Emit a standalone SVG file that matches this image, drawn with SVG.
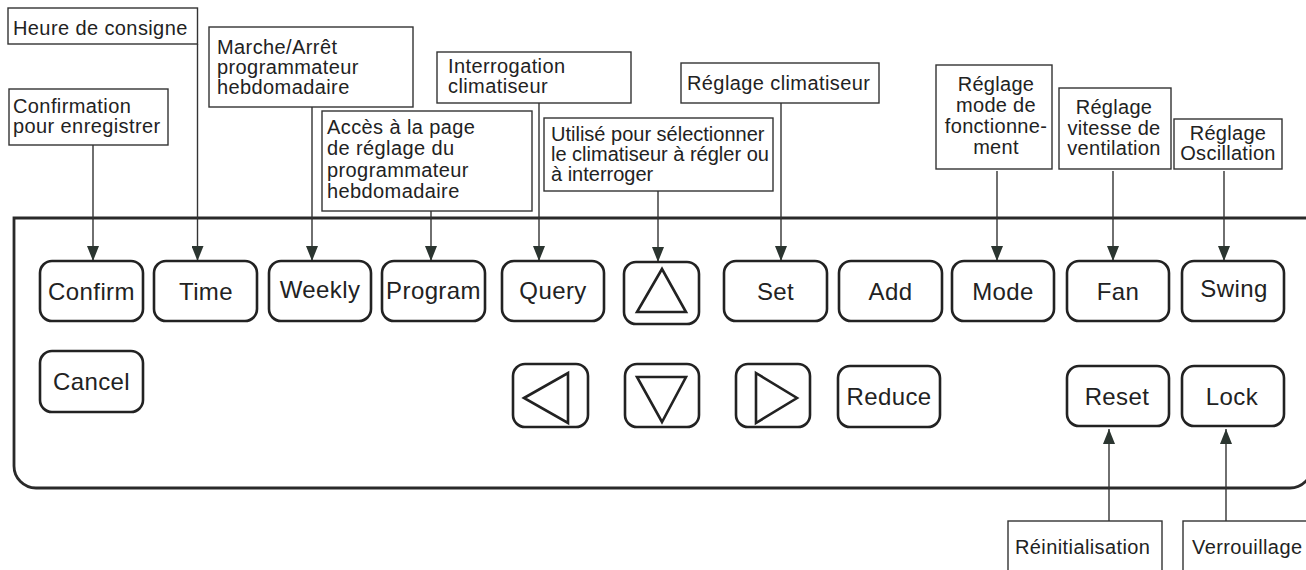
<svg xmlns="http://www.w3.org/2000/svg" width="1306" height="570" viewBox="0 0 1306 570">
<style>
.lbl{fill:#fff;stroke:#333;stroke-width:1.4}
.lt{font-family:"Liberation Sans",Arial,sans-serif;font-size:20px;letter-spacing:0.4px;fill:#222}
.lt0{letter-spacing:0px}
.ltc{font-family:"Liberation Sans",Arial,sans-serif;font-size:20px;letter-spacing:0.3px;fill:#222;text-anchor:middle}
.btn{fill:#fff;stroke:#222;stroke-width:2.6}
.bt{font-family:"Liberation Sans",Arial,sans-serif;font-size:24px;letter-spacing:0.4px;fill:#222;text-anchor:middle}
.tri{fill:none;stroke:#222;stroke-width:2.6;stroke-linejoin:miter}
.con{stroke:#333;stroke-width:1.4;fill:none}
</style>
<defs>
<marker id="ah" viewBox="0 0 15 12" refX="15" refY="6" markerWidth="15" markerHeight="12" markerUnits="userSpaceOnUse" orient="auto">
<path d="M0,0 L15,6 L0,12 Z" fill="#2b3530"/>
</marker>
</defs>
<rect width="1306" height="570" fill="#fff"/>

<g id="panel">
<path d="M1320,218 H14 V466 A22,22 0 0 0 36,488 H1290 A22,22 0 0 0 1312,466" fill="none" stroke="#2a2a2a" stroke-width="2.8"/>
</g>

<g id="connectors">
<line class="con" x1="93" y1="145" x2="93" y2="261" marker-end="url(#ah)"/>
<line class="con" x1="197.5" y1="44" x2="197.5" y2="261" marker-end="url(#ah)"/>
<line class="con" x1="312" y1="107" x2="312" y2="261" marker-end="url(#ah)"/>
<line class="con" x1="431" y1="211" x2="431" y2="261" marker-end="url(#ah)"/>
<line class="con" x1="539" y1="103" x2="539" y2="261" marker-end="url(#ah)"/>
<line class="con" x1="658" y1="191" x2="658" y2="262" marker-end="url(#ah)"/>
<line class="con" x1="781" y1="103" x2="781" y2="261" marker-end="url(#ah)"/>
<line class="con" x1="997" y1="171" x2="997" y2="261" marker-end="url(#ah)"/>
<line class="con" x1="1113" y1="171" x2="1113" y2="261" marker-end="url(#ah)"/>
<line class="con" x1="1224" y1="171" x2="1224" y2="261" marker-end="url(#ah)"/>
<line class="con" x1="1109" y1="521" x2="1109" y2="429" marker-end="url(#ah)"/>
<line class="con" x1="1226" y1="521" x2="1226" y2="429" marker-end="url(#ah)"/>
</g>

<g id="label-heure">
<rect class="lbl" x="8" y="8" width="189.5" height="36"/>
<text class="lt" x="13" y="35">Heure de consigne</text>
</g>
<g id="label-confirmation">
<rect class="lbl" x="9" y="89" width="159" height="56"/>
<text class="lt" x="13" y="113">Confirmation</text>
<text class="lt" x="13" y="133">pour enregistrer</text>
</g>
<g id="label-marche">
<rect class="lbl" x="209" y="27" width="204" height="80"/>
<text class="lt" x="217" y="54">Marche/Arrêt</text>
<text class="lt" x="217" y="74">programmateur</text>
<text class="lt" x="217" y="94">hebdomadaire</text>
</g>
<g id="label-acces">
<rect class="lbl" x="322" y="111" width="210" height="100"/>
<text class="lt" x="327" y="134">Accès à la page</text>
<text class="lt" x="327" y="155">de réglage du</text>
<text class="lt" x="327" y="177">programmateur</text>
<text class="lt" x="327" y="198">hebdomadaire</text>
</g>
<g id="label-interrogation">
<rect class="lbl" x="437" y="52" width="194" height="51"/>
<text class="lt" x="448" y="73">Interrogation</text>
<text class="lt" x="448" y="93">climatiseur</text>
</g>
<g id="label-utilise">
<rect class="lbl" x="544" y="118" width="229" height="73"/>
<text class="lt lt0" x="551" y="141">Utilisé pour sélectionner</text>
<text class="lt lt0" x="551" y="161">le climatiseur à régler ou</text>
<text class="lt lt0" x="551" y="181">à interroger</text>
</g>
<g id="label-reglage-clim">
<rect class="lbl" x="681" y="63" width="198" height="40"/>
<text class="lt" x="687" y="90">Réglage climatiseur</text>
</g>
<g id="label-mode">
<rect class="lbl" x="936" y="65" width="116" height="104"/>
<text class="ltc" x="996" y="91">Réglage</text>
<text class="ltc" x="996" y="112">mode de</text>
<text class="ltc" x="996" y="133">fonctionne-</text>
<text class="ltc" x="996" y="154">ment</text>
</g>
<g id="label-fan">
<rect class="lbl" x="1059" y="88" width="112" height="81"/>
<text class="ltc" x="1114" y="114">Réglage</text>
<text class="ltc" x="1114" y="135">vitesse de</text>
<text class="ltc" x="1114" y="155">ventilation</text>
</g>
<g id="label-swing">
<rect class="lbl" x="1174" y="119" width="108" height="50"/>
<text class="ltc" x="1228" y="140">Réglage</text>
<text class="ltc" x="1228" y="160">Oscillation</text>
</g>
<g id="label-reset">
<rect class="lbl" x="1008" y="521" width="154" height="60"/>
<text class="lt" x="1015" y="554">Réinitialisation</text>
</g>
<g id="label-lock">
<rect class="lbl" x="1183" y="521" width="130" height="60"/>
<text class="lt" x="1192" y="554">Verrouillage</text>
</g>

<g id="btn-confirm"><rect class="btn" x="40" y="261" width="103" height="60" rx="12"/><text class="bt" x="91.5" y="300">Confirm</text></g>
<g id="btn-time"><rect class="btn" x="154" y="261" width="103" height="60" rx="12"/><text class="bt" x="206" y="300">Time</text></g>
<g id="btn-weekly"><rect class="btn" x="269" y="261" width="102" height="60" rx="12"/><text class="bt" x="320" y="298">Weekly</text></g>
<g id="btn-program"><rect class="btn" x="382" y="261" width="103" height="60" rx="12"/><text class="bt" x="433.5" y="299">Program</text></g>
<g id="btn-query"><rect class="btn" x="502" y="261" width="102" height="60" rx="12"/><text class="bt" x="553" y="299">Query</text></g>
<g id="btn-up"><rect class="btn" x="624" y="262" width="75" height="62" rx="12"/><path class="tri" d="M662,269 L686,312 L637,312 Z"/></g>
<g id="btn-set"><rect class="btn" x="724" y="261" width="103" height="60" rx="12"/><text class="bt" x="775.5" y="300">Set</text></g>
<g id="btn-add"><rect class="btn" x="839" y="261" width="103" height="60" rx="12"/><text class="bt" x="890.5" y="300">Add</text></g>
<g id="btn-mode"><rect class="btn" x="952" y="261" width="102" height="60" rx="12"/><text class="bt" x="1003" y="300">Mode</text></g>
<g id="btn-fan"><rect class="btn" x="1067" y="261" width="102" height="60" rx="12"/><text class="bt" x="1118" y="300">Fan</text></g>
<g id="btn-swing"><rect class="btn" x="1182" y="261" width="102" height="60" rx="12"/><text class="bt" x="1234" y="297">Swing</text></g>

<g id="btn-cancel"><rect class="btn" x="40" y="351" width="103" height="61" rx="12"/><text class="bt" x="91.5" y="390">Cancel</text></g>
<g id="btn-left"><rect class="btn" x="513" y="364" width="75" height="63" rx="12"/><path class="tri" d="M524,398 L568,373 L568,423 Z"/></g>
<g id="btn-down"><rect class="btn" x="625" y="364" width="74" height="63" rx="12"/><path class="tri" d="M637,377 L686,377 L662,422 Z"/></g>
<g id="btn-right"><rect class="btn" x="736" y="364" width="74" height="63" rx="12"/><path class="tri" d="M756,373 L797,398 L756,423 Z"/></g>
<g id="btn-reduce"><rect class="btn" x="838" y="366" width="102" height="61" rx="12"/><text class="bt" x="889" y="405">Reduce</text></g>
<g id="btn-reset"><rect class="btn" x="1067" y="366" width="102" height="60" rx="12"/><text class="bt" x="1117" y="405">Reset</text></g>
<g id="btn-lock"><rect class="btn" x="1182" y="366" width="102" height="60" rx="12"/><text class="bt" x="1232" y="405">Lock</text></g>
</svg>
